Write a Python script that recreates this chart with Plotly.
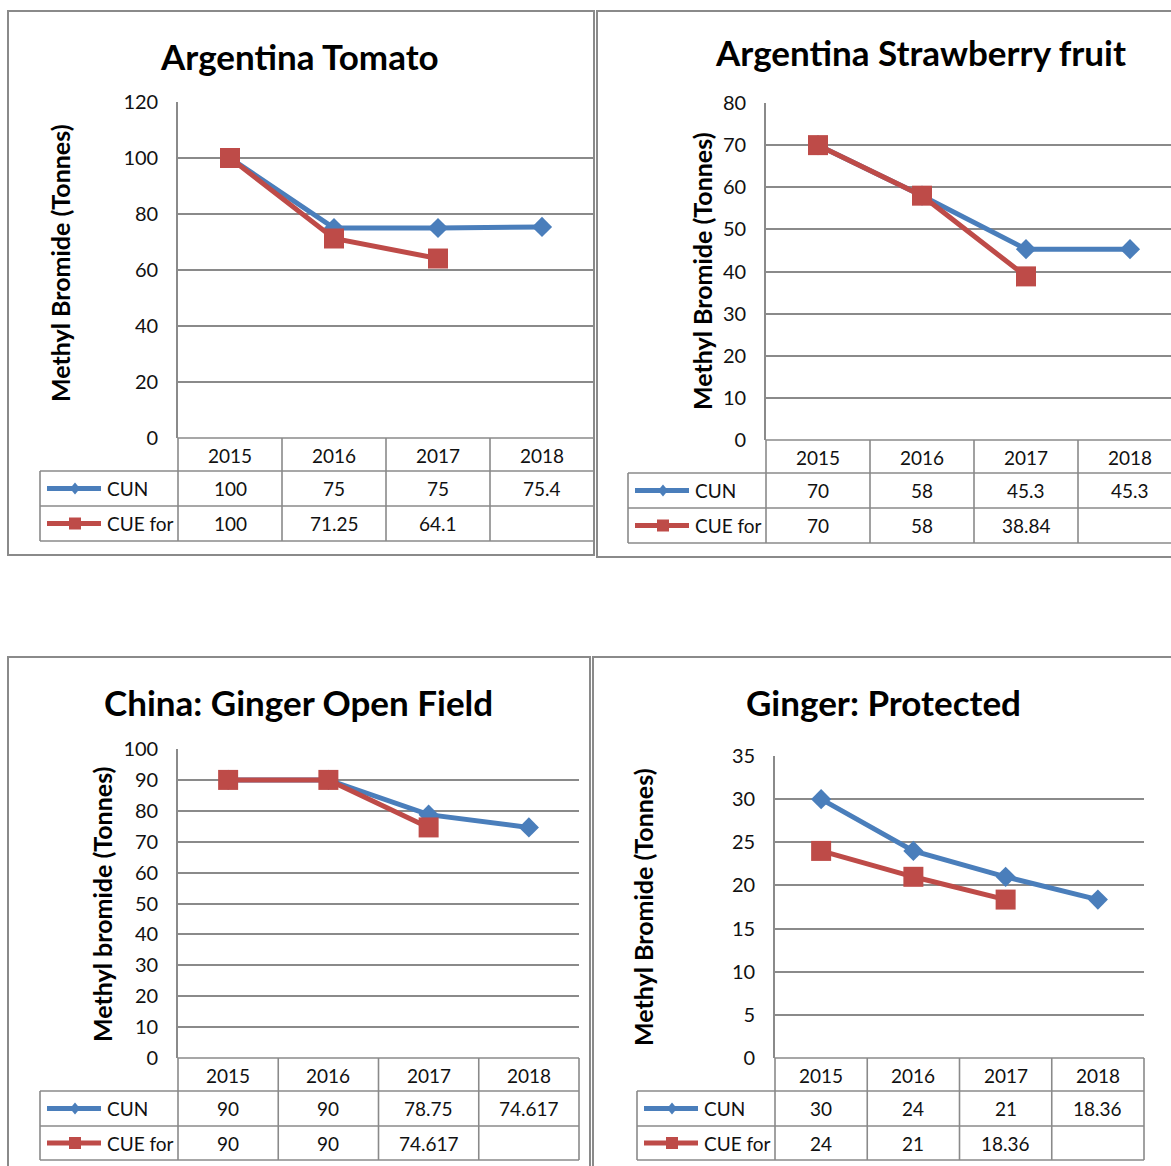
import plotly.graph_objects as go

W, H = 1171, 1166

years = ["2015", "2016", "2017", "2018"]
series_names = ["CUN", "CUE for"]

tomato_cun = [100, 75, 75, 75.4]
tomato_cue = [100, 71.25, 64.1, None]
straw_cun = [70, 58, 45.3, 45.3]
straw_cue = [70, 58, 38.84, None]
ginger_open_cun = [90, 90, 78.75, 74.617]
ginger_open_cue = [90, 90, 74.617, None]
ginger_prot_cun = [30, 24, 21, 18.36]
ginger_prot_cue = [24, 21, 18.36, None]

titles = ["Argentina Tomato", "Argentina Strawberry fruit",
          "China: Ginger Open Field", "Ginger: Protected"]
ytitles = ["Methyl Bromide (Tonnes)", "Methyl Bromide (Tonnes)",
           "Methyl bromide (Tonnes)", "Methyl Bromide (Tonnes)"]
ymaxes = [120, 80, 100, 35]
dticks = [20, 10, 10, 5]
data = [(tomato_cun, tomato_cue), (straw_cun, straw_cue),
        (ginger_open_cun, ginger_open_cue), (ginger_prot_cun, ginger_prot_cue)]

# pixel layout of each panel
panels = [
    dict(frame=(8, 11, 594, 555), plot=(178, 102, 594, 438), rows=(471, 506, 541),
         tleft=40, title=(300, 56), ytitle=(60, 263)),
    dict(frame=(597, 11, 1200, 557), plot=(766, 103, 1182, 440), rows=(473, 508, 543),
         tleft=628, title=(920, 52), ytitle=(702, 271)),
    dict(frame=(8, 657, 590, 1200), plot=(178, 749, 579, 1058), rows=(1091, 1126, 1160),
         tleft=40, title=(298, 702), ytitle=(102, 905)),
    dict(frame=(593, 657, 1200, 1200), plot=(775, 756, 1144, 1058), rows=(1091, 1126, 1160),
         tleft=637, title=(883, 702), ytitle=(643, 907)),
]

BLUE = "#4A7EBB"
RED = "#BE4B48"
GRID = "#8A8A8A"
TXT = "#111111"
FONT = "Lato"


def px(x):
    return x / W


def py(y):
    return 1 - y / H


fig = go.Figure()
shapes = []
annotations = []


def line(x0, y0, x1, y1, color=GRID, width=1.6):
    shapes.append(dict(type="line", xref="paper", yref="paper",
                       x0=px(x0), y0=py(y0), x1=px(x1), y1=py(y1),
                       line=dict(color=color, width=width)))


def text(x, y, s, size=19, bold=False, angle=0, xanchor="center"):
    annotations.append(dict(xref="paper", yref="paper", x=px(x), y=py(y),
                            text=f"<b>{s}</b>" if bold else s, showarrow=False,
                            textangle=angle, xanchor=xanchor, yanchor="middle",
                            font=dict(family=FONT, size=size, color="#000" if bold else TXT)))


for i, (p, (cun, cue)) in enumerate(zip(panels, data)):
    k = "" if i == 0 else str(i + 1)
    left, top, right, bottom = p["plot"]
    vis_right = min(right, W)
    ncat = len(years)
    xr = [-0.5, -0.5 + ncat * (vis_right - left) / (right - left)]
    fig.add_trace(go.Scatter(x=years, y=cun, name=series_names[0], mode="lines+markers",
                             line=dict(color=BLUE, width=5),
                             marker=dict(symbol="diamond", size=15.5, color=BLUE),
                             xaxis="x" + k, yaxis="y" + k, showlegend=False, cliponaxis=False))
    fig.add_trace(go.Scatter(x=years, y=cue, name=series_names[1], mode="lines+markers",
                             line=dict(color=RED, width=5),
                             marker=dict(symbol="square", size=20, color=RED),
                             xaxis="x" + k, yaxis="y" + k, showlegend=False, cliponaxis=False))
    fig.update_layout(**{
        "xaxis" + k: dict(domain=[px(left), px(vis_right)], range=xr, type="category",
                          showgrid=False, showticklabels=False, zeroline=False,
                          showline=False, anchor="y" + k, fixedrange=True, automargin=False),
        "yaxis" + k: dict(domain=[py(bottom), py(top)], range=[0, ymaxes[i]],
                          dtick=dticks[i], tick0=0, showgrid=True, gridcolor=GRID,
                          gridwidth=1.8, zeroline=False, showline=True, linecolor=GRID,
                          linewidth=1.6, anchor="x" + k, ticks="",
                          ticklabelstandoff=14, automargin=False,
                          tickfont=dict(family=FONT, size=20, color=TXT), fixedrange=True),
    })

    # frame
    fx0, fy0, fx1, fy1 = p["frame"]
    shapes.append(dict(type="rect", xref="paper", yref="paper",
                       x0=px(fx0), y0=py(fy0), x1=px(fx1), y1=py(fy1),
                       line=dict(color=GRID, width=2), layer="below"))

    # table grid
    r1, r2, r3 = p["rows"]
    tl = p["tleft"]
    colw = (right - left) / ncat
    line(left, bottom, right, bottom)
    line(tl, r1, right, r1)
    line(tl, r2, right, r2)
    line(tl, r3, right, r3)
    line(tl, r1, tl, r3)
    for c in range(ncat + 1):
        xc = left + c * colw
        line(xc, bottom, xc, r3)

    # table text
    hc = (bottom + r1) / 2
    c1 = (r1 + r2) / 2
    c2 = (r2 + r3) / 2
    for c, yr in enumerate(years):
        xc = left + (c + 0.5) * colw
        text(xc, hc + 1, yr)
        if cun[c] is not None:
            text(xc, c1, f"{cun[c]:g}")
        if cue[c] is not None:
            text(xc, c2, f"{cue[c]:g}")

    # legend keys in table
    lx0, lx1, mx = tl + 7, tl + 61, tl + 35
    shapes.append(dict(type="line", xref="paper", yref="paper",
                       x0=px(lx0), y0=py(c1), x1=px(lx1), y1=py(c1),
                       line=dict(color=BLUE, width=5)))
    d = 5
    shapes.append(dict(type="path", xref="paper", yref="paper",
                       path=f"M {px(mx - d)} {py(c1)} L {px(mx)} {py(c1 - d - 1)} L {px(mx + d)} {py(c1)} L {px(mx)} {py(c1 + d + 1)} Z",
                       fillcolor=BLUE, line=dict(color=BLUE, width=0)))
    shapes.append(dict(type="line", xref="paper", yref="paper",
                       x0=px(lx0), y0=py(c2), x1=px(lx1), y1=py(c2),
                       line=dict(color=RED, width=5)))
    s = 6
    shapes.append(dict(type="rect", xref="paper", yref="paper",
                       x0=px(mx - s), y0=py(c2 - s), x1=px(mx + s), y1=py(c2 + s),
                       fillcolor=RED, line=dict(color=RED, width=0)))
    text(tl + 65, c1, series_names[0], xanchor="left")
    text(tl + 65, c2, series_names[1], xanchor="left")

    # titles
    tx, ty = p["title"]
    text(tx, ty, titles[i], size=35, bold=True)
    ax, ay = p["ytitle"]
    text(ax, ay, ytitles[i], size=25, bold=True, angle=-90)

fig.update_layout(width=W, height=H,
                  margin=dict(l=0, r=0, t=0, b=0, pad=0, autoexpand=False),
                  paper_bgcolor="white", plot_bgcolor="white",
                  shapes=shapes, annotations=annotations, showlegend=False)

fig.write_html("out.html", config={"displayModeBar": False},
               post_script="document.body.style.margin='0';document.body.style.overflow='hidden';")
